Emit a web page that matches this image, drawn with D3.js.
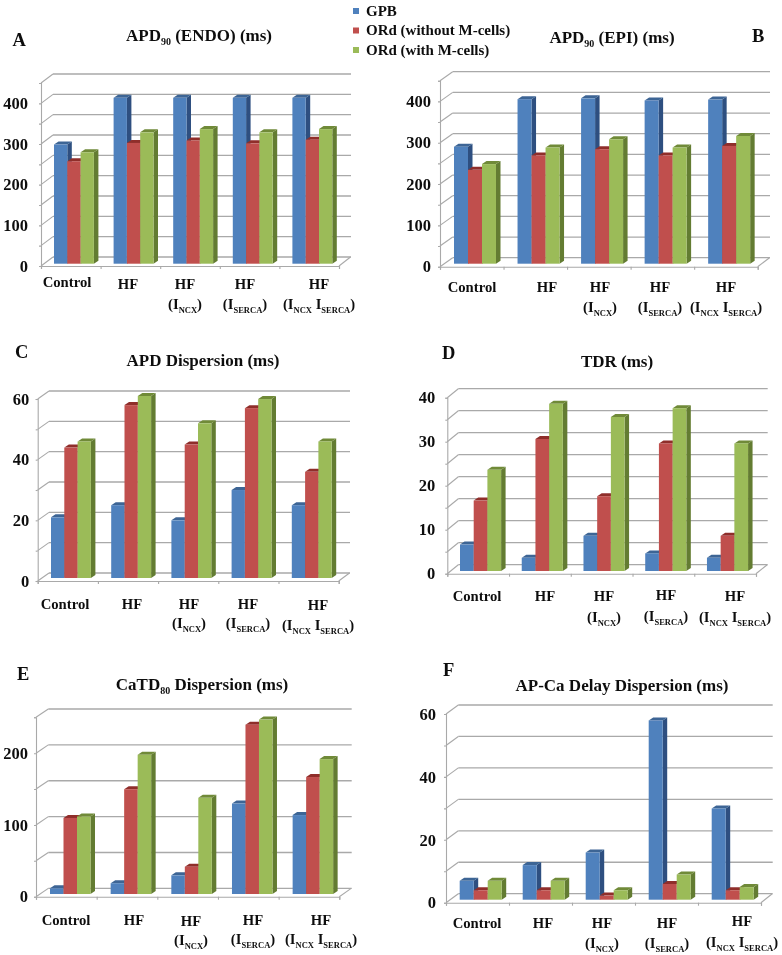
<!DOCTYPE html>
<html><head><meta charset="utf-8">
<style>html,body{margin:0;padding:0;background:#fff}svg{display:block}text{font-family:"Liberation Serif",serif;font-weight:bold;fill:#111}</style>
<script src="https://cdn.jsdelivr.net/npm/d3@7"></script></head><body>
<svg id="c" width="782" height="955"></svg>
<script>
const categories = ["Control","HF","HF INCX","HF ISERCA","HF INCX ISERCA"];
const seriesNames = ["GPB","ORd (without M-cells)","ORd (with M-cells)"];
const frontColors = ["#4f81bd","#c0504d","#9bbb59"];
const topColors = ["#3c6595","#8f2e2c","#6f8a38"];
const sideColors = ["#2d5080","#8a3a38","#647c32"];

const apdEndoGPB = [293,408,408,408,408];
const apdEndoNoM = [252,297,303,296,305];
const apdEndoM   = [274,323,331,323,331];
const apdEpiGPB = [283,398,400,395,397];
const apdEpiNoM = [227,262,277,262,285];
const apdEpiM   = [241,281,301,281,309];
const apdDispGPB = [20,24,19,29,24];
const apdDispNoM = [43,57,44,56,35];
const apdDispM   = [45,60,51,59,45];
const tdrGPB = [6,3,8,4,3];
const tdrNoM = [16,30,17,29,8];
const tdrM   = [23,38,35,37,29];
const catdGPB = [8,15,26,126,110];
const catdNoM = [106,146,38,236,163];
const catdM   = [108,194,134,243,188];
const delayGPB = [6,11,15,57,29];
const delayNoM = [3,3,1.3,5,3];
const delayM   = [6,6,3,8,4];

const labelled = {A:100,B:100,C:20,D:10,E:100,F:20};
const panels = [
 {id:"A",vals:[apdEndoGPB,apdEndoNoM,apdEndoM],max:450,step:50,x0:41,x1:339,y0:266,yT:83,dx:12,dy:9,right:351,inset:13,bw:13.3,lift:2.3,pad:13,
  title:["APD","90"," (ENDO) (ms)"],tx:199,ty:41,lx:12.5,ly:46,
  cx:[67,128,185,245,319],l1:[287,289,289,289,289],l2:[0,0,309,309,309]},
 {id:"B",vals:[apdEpiGPB,apdEpiNoM,apdEpiM],max:450,step:50,x0:440,x1:757.7,y0:266.7,yT:80.7,dx:12.7,dy:9,right:770,inset:14,bw:14,lift:3,pad:9,
  title:["APD","90"," (EPI) (ms)"],tx:612,ty:43,lx:752,ly:42,
  cx:[472,547,600,660,726],l1:[292,292,292,292,292],l2:[0,0,312,312,312]},
 {id:"C",vals:[apdDispGPB,apdDispNoM,apdDispM],max:60,step:10,x0:37.7,x1:338.7,y0:581,yT:399,dx:11.3,dy:8,right:350,inset:13.3,bw:13.3,lift:3,pad:8.5,
  title:["APD Dispersion (ms)"],tx:203,ty:366,lx:15,ly:358,
  cx:[65,132,189,248,318],l1:[609,609,609,609,610],l2:[0,0,628,628,630]},
 {id:"D",vals:[tdrGPB,tdrNoM,tdrM],max:40,step:5,x0:447.3,x1:756,y0:573.7,yT:397.7,dx:11,dy:9,right:767.7,inset:12.7,bw:13.7,lift:2.7,pad:12,
  title:["TDR (ms)"],tx:617,ty:367,lx:442,ly:359,
  cx:[477,545,604,666,735],l1:[601,601,601,600,601],l2:[0,0,622,621,622]},
 {id:"E",vals:[catdGPB,catdNoM,catdM],max:250,step:50,x0:36,x1:339.3,y0:896.7,yT:717.3,dx:12.3,dy:8.3,right:351.7,inset:14,bw:13.5,lift:2.7,pad:8,
  title:["CaTD","80"," Dispersion (ms)"],tx:202,ty:690,lx:17,ly:680,
  cx:[66,134,191,253,321],l1:[925,925,926,925,925],l2:[0,0,945,944,944]},
 {id:"F",vals:[delayGPB,delayNoM,delayM],max:60,step:10,x0:446,x1:761,y0:902.7,yT:714,dx:12.3,dy:9,right:772.7,inset:13.7,bw:14,lift:3,pad:10,
  title:["AP-Ca Delay Dispersion (ms)"],tx:622,ty:691,lx:443,ly:676,
  cx:[477,543,602,667,742],l1:[928,928,928,928,926],l2:[0,0,948,948,947]}
];

const svg = d3.select("#c");
svg.append("rect").attr("width",782).attr("height",955).attr("fill","#fff");
const defs = svg.append("defs");
defs.append("filter").attr("id","soft").attr("x","0").attr("y","0").attr("width","1").attr("height","1")
  .attr("filterUnits","userSpaceOnUse").attr("x",0).attr("y",0).attr("width",782).attr("height",955)
  .append("feGaussianBlur").attr("stdDeviation",0.4);
const root = svg.append("g").attr("filter","url(#soft)");
const gridCol = "#a9a9a9";

function subLine(sel,parts,size,sub){
  parts.forEach((p,i)=>{
    const isSub = /^(\d\d|NCX|SERCA)$/.test(p);
    sel.append("tspan").text(p).attr("font-size",isSub?sub:size).attr("dy",isSub?4:(i>0?-4:0));
  });
}

panels.forEach(p=>{
  const g = root.append("g");
  const y = d3.scaleLinear().domain([0,p.max]).range([p.y0,p.yT]);
  const band = d3.scaleBand().domain(categories).range([p.x0,p.x1]);
  const inner = d3.scaleBand().domain(d3.range(3)).range([0,3*p.bw]);
  const tickVals = d3.range(0,p.max+p.step/2,p.step);

  g.selectAll("line.grid").data(tickVals).join("line")
    .attr("x1",p.x0+p.dx).attr("x2",p.right)
    .attr("y1",d=>y(d)-p.dy).attr("y2",d=>y(d)-p.dy)
    .attr("stroke",gridCol).attr("stroke-width",1.3);
  g.selectAll("line.diag").data(tickVals).join("line")
    .attr("x1",p.x0).attr("x2",p.x0+p.dx)
    .attr("y1",d=>y(d)).attr("y2",d=>y(d)-p.dy)
    .attr("stroke",gridCol).attr("stroke-width",1.1);
  g.append("line").attr("x1",p.x1).attr("y1",p.y0).attr("x2",p.right-0.5).attr("y2",p.y0-p.dy)
    .attr("stroke",gridCol).attr("stroke-width",1.1);

  const ax = d3.axisLeft(y).tickValues(tickVals).tickSize(2)
    .tickPadding(p.pad-2).tickFormat(d=>d%labelled[p.id]===0?d:"");
  const ay = g.append("g").attr("transform",`translate(${p.x0},0)`).call(ax);
  ay.selectAll("path,line").attr("stroke",gridCol).attr("stroke-width",1.1);
  ay.selectAll("text").attr("font-size",16.5).attr("font-family","Liberation Serif").attr("font-weight","bold").attr("fill","#111");

  const xt = d3.scaleLinear().domain([0,categories.length]).range([p.x0,p.x1]);
  const bx = d3.axisBottom(xt).ticks(categories.length).tickSize(3).tickFormat("");
  const ab = g.append("g").attr("transform",`translate(0,${p.y0})`).call(bx);
  ab.selectAll("path,line").attr("stroke",gridCol).attr("stroke-width",1.1);

  const depth = 4.5, rise = 3;
  categories.forEach((c,ci)=>{
    d3.range(3).forEach(si=>{
      const v = p.vals[si][ci];
      const X = band(c)+p.inset+inner(si), W = inner.bandwidth();
      const T = y(v)-p.lift, B = y(0)-p.lift;
      g.append("polygon").attr("fill",sideColors[si])
        .attr("points",[[X+W,T],[X+W+depth,T-rise],[X+W+depth,B-rise],[X+W,B]].join(" "));
      g.append("polygon").attr("fill",topColors[si])
        .attr("points",[[X,T],[X+W,T],[X+W+depth,T-rise],[X+depth,T-rise]].join(" "));
      g.append("rect").attr("x",X).attr("y",T).attr("width",W).attr("height",B-T).attr("fill",frontColors[si]);
    });
  });

  const t = g.append("text").attr("x",p.tx).attr("y",p.ty).attr("text-anchor","middle");
  subLine(t,p.title,17,10);
  g.append("text").attr("x",p.lx).attr("y",p.ly).attr("font-size",18.5).text(p.id);

  categories.forEach((c,i)=>{
    const words = c.split(" ");
    g.append("text").attr("x",p.cx[i]).attr("y",p.l1[i]).attr("text-anchor","middle").attr("font-size",14.7).text(words[0]);
    if(words.length>1){
      const parts = ["("];
      words.slice(1).forEach((w,k)=>{ if(k>0)parts.push(" "); parts.push("I",w.slice(1)); });
      parts.push(")");
      const l = g.append("text").attr("x",p.cx[i]).attr("y",p.l2[i]).attr("text-anchor","middle");
      let low=false;
      parts.forEach(s=>{
        const isSub=/^(NCX|SERCA)$/.test(s);
        l.append("tspan").text(s).attr("font-size",isSub?8.5:14.7).attr("dy",isSub?3.5:(low?-3.5:0));
        low=isSub;
      });
    }
  });
});

const ly = d3.scalePoint().domain(seriesNames).range([9,48]);
const legend = root.append("g");
seriesNames.forEach((n,i)=>{
  legend.append("rect").attr("x",353).attr("y",ly(n)-1).attr("width",6).attr("height",6).attr("fill",frontColors[i]);
  legend.append("text").attr("x",366).attr("y",ly(n)+6.5).attr("font-size",15).text(n);
});
</script></body></html>
